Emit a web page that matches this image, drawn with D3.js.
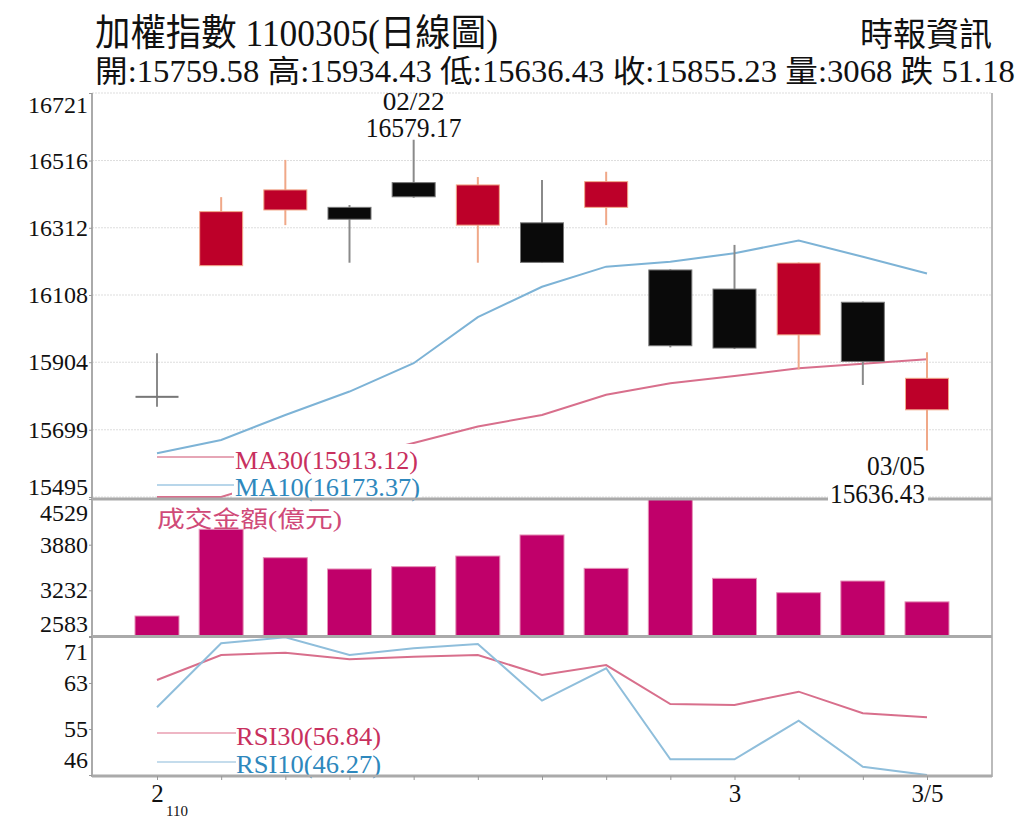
<!DOCTYPE html>
<html>
<head>
<meta charset="utf-8">
<script src="https://cdn.jsdelivr.net/npm/d3@7"></script>
<style>
  body { margin: 0; background: #fff; }
  svg { display: block; }
  text { font-family: 'Liberation Serif', 'Noto Sans CJK TC', serif; }
</style>
</head>
<body>
<div id="chart"></div>
<script>
// trading days, 110/02/05 .. 110/03/05
const dates = ["2/5", "2/17", "2/18", "2/19", "2/22", "2/23", "2/24", "2/25", "2/26", "3/2", "3/3", "3/4", "3/5"];
const xTickLabels = ["2", "", "", "", "", "", "", "", "", "3", "", "", "3/5"];

const openP  = [15800, 16197, 16366, 16374, 16449, 16320, 16327, 16374, 16184, 16126, 15987, 16086, 15759.58];
const highP  = [15931, 16405, 16518, 16381, 16579.17, 16466, 16457, 16482, 16186, 16260, 16207, 16088, 15934.43];
const lowP   = [15769, 16197, 16320, 16206, 16403, 16206, 16205, 16320, 15949, 15944, 15882, 15835, 15636.43];
const closeP = [15802, 16361, 16427, 16338, 16406, 16442, 16207, 16452, 15954, 15947, 16205, 15906.41, 15855.23];

const ma10 = [15628, 15668, 15744, 15815, 15901, 16041, 16133, 16194, 16209, 16235, 16273, 16224, 16173.37];
const ma30 = [15468, 15490, 15555, 15610, 15659, 15709, 15744, 15805, 15840, 15862, 15886, 15899, 15913.12];

const volume = [2867, 4099, 3695, 3535, 3568, 3719, 4018, 3544, 4529, 3402, 3198, 3364, 3068];

const rsi30 = [63.67, 68.25, 68.67, 67.46, 67.94, 68.25, 64.6, 66.4, 59.27, 59.09, 61.53, 57.57, 56.84];
const rsi10 = [58.67, 70.39, 71.5, 68.25, 69.47, 70.26, 59.88, 65.81, 49.15, 49.15, 56.22, 47.79, 46.27];

const priceTicks = [15495, 15699, 15904, 16108, 16312, 16516, 16721];
const volTicks = [2583, 3232, 3880, 4529];
const rsiTicks = [46.27, 54.69, 63.12, 71.54];
const rsiTickLabels = ["46", "55", "63", "71"];

const W = 1024, H = 820;
const left = 92, right = 992;
const priceTop = 93, priceBot = 497, volTop = 499, volBot = 636, rsiTop = 637, rsiBot = 775;

const svg = d3.select("#chart").append("svg")
  .attr("width", W).attr("height", H);

const x = d3.scalePoint().domain(dates).range([157, 927]);
const yP = d3.scaleLinear().domain([15495, 16721]).range([priceBot, priceTop]).clamp(true);
const yV = d3.scaleLinear().domain([2583, 4529]).range([volBot, volTop]);
const yR = d3.scaleLinear().domain([46.27, 71.54]).range([rsiBot, rsiTop]).clamp(true);

// header: CJK and latin runs as separate texts, then squeezed to width
const serif = "'Liberation Serif', serif";
const cjk = "'Noto Sans CJK TC', sans-serif";
function mixedText(x0, y0, size, width, str) {
  const g = svg.append("g");
  const parts = str.match(/[\u3000-\u9fff\uff00-\uffef]+|[^\u3000-\u9fff\uff00-\uffef]+/g);
  let cx = 0;
  parts.forEach(p => {
    const t = g.append("text").attr("x", cx).attr("y", 0)
      .attr("font-size", size).attr("fill", "#111")
      .attr("font-family", /[\u3000-\u9fff]/.test(p) ? cjk : serif)
      .attr("xml:space", "preserve").style("white-space", "pre")
      .text(p);
    cx += t.node().getComputedTextLength();
  });
  g.attr("transform", `translate(${x0},${y0}) scale(${width / cx},1)`);
}
mixedText(95, 46, 37, 403, "加權指數 1100305(日線圖)");
svg.append("text").attr("x", 992).attr("y", 46)
  .attr("text-anchor", "end").attr("font-size", 33).attr("fill", "#111")
  .attr("font-family", cjk)
  .text("時報資訊");
mixedText(95, 82, 31, 920, "開:15759.58 高:15934.43 低:15636.43 收:15855.23 量:3068 跌 51.18");

// grid lines (price panel)
svg.append("g").selectAll("line")
  .data(priceTicks)
  .join("line")
  .attr("x1", left).attr("x2", right)
  .attr("y1", d => yP(d)).attr("y2", d => yP(d))
  .attr("stroke", "#ddd").attr("stroke-dasharray", "2,1");

// moving averages
const line = (scale) => d3.line().x((d, i) => x(dates[i])).y(d => scale(d));
svg.append("path").datum(ma30)
  .attr("d", line(yP)).attr("fill", "none")
  .attr("stroke", "#d86f8c").attr("stroke-width", 2);
svg.append("path").datum(ma10)
  .attr("d", line(yP)).attr("fill", "none")
  .attr("stroke", "#7db3d6").attr("stroke-width", 2);

// candles
const candles = svg.append("g").selectAll("g")
  .data(dates.map((d, i) => ({ d, o: openP[i], h: highP[i], l: lowP[i], c: closeP[i] })))
  .join("g");
const bw = 43;
candles.append("line")
  .attr("x1", d => x(d.d)).attr("x2", d => x(d.d))
  .attr("y1", d => yP(d.h)).attr("y2", d => yP(d.l))
  .attr("stroke", d => d.c > d.o + 5 ? "#f0a888" : "#8a8a8a")
  .attr("stroke-width", 2);
candles.append("rect")
  .attr("x", d => x(d.d) - bw / 2)
  .attr("width", bw)
  .attr("y", d => yP(Math.max(d.o, d.c)))
  .attr("height", d => Math.max(2, Math.abs(yP(d.o) - yP(d.c))))
  .attr("fill", d => Math.abs(d.c - d.o) < 5 ? "#777" : (d.c > d.o ? "#bd0029" : "#0a0a0a"))
  .attr("stroke", d => Math.abs(d.c - d.o) < 5 ? "none" : (d.c > d.o ? "#f2a88a" : "#777"))
  .attr("stroke-width", 1);

// MA legend
svg.append("rect").attr("x", 232).attr("y", 444).attr("width", 190).attr("height", 54).attr("fill", "#fff");
svg.append("line").attr("x1", 157).attr("x2", 234).attr("y1", 457).attr("y2", 457)
  .attr("stroke", "#e6a6b6").attr("stroke-width", 2);
svg.append("line").attr("x1", 157).attr("x2", 234).attr("y1", 485).attr("y2", 485)
  .attr("stroke", "#b8d6ea").attr("stroke-width", 2);
svg.append("text").attr("x", 235).attr("y", 469).attr("font-size", 25)
  .attr("fill", "#c8305e").attr("textLength", 183).attr("lengthAdjust", "spacingAndGlyphs")
  .text("MA30(" + d3.format(".2f")(ma30[ma30.length - 1]) + ")");
svg.append("text").attr("x", 235).attr("y", 496).attr("font-size", 25)
  .attr("fill", "#2e88bd").attr("textLength", 185).attr("lengthAdjust", "spacingAndGlyphs")
  .text("MA10(" + d3.format(".2f")(ma10[ma10.length - 1]) + ")");

// high / low annotations
const hi = d3.maxIndex(highP), lo = d3.minIndex(lowP);
svg.append("text").attr("x", x(dates[hi])).attr("y", yP(highP[hi]) - 30)
  .attr("text-anchor", "middle").attr("font-size", 25).attr("fill", "#111")
  .attr("textLength", 62).attr("lengthAdjust", "spacingAndGlyphs")
  .text("02/22");
svg.append("text").attr("x", x(dates[hi])).attr("y", yP(highP[hi]) - 3)
  .attr("text-anchor", "middle").attr("font-size", 27).attr("fill", "#111")
  .attr("textLength", 96).attr("lengthAdjust", "spacingAndGlyphs")
  .text(d3.format(".2f")(highP[hi]));
svg.append("rect").attr("x", 828).attr("y", 481).attr("width", 100).attr("height", 26).attr("fill", "#fff");
svg.append("text").attr("x", x(dates[lo]) - 2).attr("y", yP(lowP[lo]) + 25)
  .attr("text-anchor", "end").attr("font-size", 27).attr("fill", "#111")
  .attr("textLength", 58).attr("lengthAdjust", "spacingAndGlyphs")
  .text("03/05");
svg.append("text").attr("x", x(dates[lo]) - 2).attr("y", yP(lowP[lo]) + 53)
  .attr("text-anchor", "end").attr("font-size", 27).attr("fill", "#111")
  .attr("textLength", 95).attr("lengthAdjust", "spacingAndGlyphs")
  .text(d3.format(".2f")(lowP[lo]));

// volume bars
svg.append("g").selectAll("rect")
  .data(volume)
  .join("rect")
  .attr("x", (d, i) => x(dates[i]) - 22)
  .attr("width", 44)
  .attr("y", d => yV(d))
  .attr("height", d => volBot - yV(d))
  .attr("fill", "#c0006a")
  .attr("stroke", "#e592b8").attr("stroke-width", 1);
svg.append("text").attr("x", 157).attr("y", 527).attr("font-size", 23)
  .attr("fill", "#d04a78").attr("textLength", 185).attr("lengthAdjust", "spacingAndGlyphs")
  .text("成交金額(億元)");

// RSI
svg.append("path").datum(rsi30)
  .attr("d", line(yR)).attr("fill", "none")
  .attr("stroke", "#d86f8c").attr("stroke-width", 2);
svg.append("path").datum(rsi10)
  .attr("d", line(yR)).attr("fill", "none")
  .attr("stroke", "#8fbedb").attr("stroke-width", 2);
svg.append("line").attr("x1", 157).attr("x2", 236).attr("y1", 733).attr("y2", 733)
  .attr("stroke", "#eeb6c4").attr("stroke-width", 2);
svg.append("line").attr("x1", 157).attr("x2", 236).attr("y1", 762).attr("y2", 762)
  .attr("stroke", "#c4dcec").attr("stroke-width", 2);
svg.append("text").attr("x", 236).attr("y", 745).attr("font-size", 25)
  .attr("fill", "#c8305e").attr("textLength", 145).attr("lengthAdjust", "spacingAndGlyphs")
  .text("RSI30(" + d3.format(".2f")(rsi30[rsi30.length - 1]) + ")");
svg.append("text").attr("x", 236).attr("y", 773).attr("font-size", 25)
  .attr("fill", "#2e88bd").attr("textLength", 145).attr("lengthAdjust", "spacingAndGlyphs")
  .text("RSI10(" + d3.format(".2f")(rsi10[rsi10.length - 1]) + ")");

// frame and separators
const frame = svg.append("g").attr("stroke", "#aaa");
frame.append("line").attr("x1", left).attr("x2", left).attr("y1", priceTop).attr("y2", rsiBot + 2).attr("stroke-width", 2);
frame.append("line").attr("x1", right).attr("x2", right).attr("y1", priceTop).attr("y2", rsiBot + 2).attr("stroke-width", 2).attr("stroke", "#bbb");
frame.append("line").attr("x1", left).attr("x2", 828).attr("y1", 499).attr("y2", 499).attr("stroke-width", 3);
frame.append("line").attr("x1", 928).attr("x2", right).attr("y1", 499).attr("y2", 499).attr("stroke-width", 3);
frame.append("line").attr("x1", left).attr("x2", right).attr("y1", 636.5).attr("y2", 636.5).attr("stroke-width", 3);
frame.append("line").attr("x1", left).attr("x2", right).attr("y1", 776).attr("y2", 776).attr("stroke-width", 3);

// axes
function styleAxis(g, firstDy, lastDy) {
  g.select(".domain").remove();
  g.selectAll(".tick line").attr("stroke", "#999");
  g.selectAll(".tick text")
    .attr("font-family", serif)
    .attr("font-size", 24).attr("fill", "#111");
  const t = g.selectAll(".tick text").nodes();
  d3.select(t[0]).attr("dy", (0.32 + lastDy) + "em");
  d3.select(t[t.length - 1]).attr("dy", (0.32 + firstDy) + "em");
}

svg.append("g").attr("transform", `translate(${left},0)`)
  .call(d3.axisLeft(yP).tickValues(priceTicks).tickFormat(d3.format("d")).tickSize(3).tickPadding(1))
  .call(g => styleAxis(g, 0.5, -0.42));

svg.append("g").attr("transform", `translate(${left},0)`)
  .call(d3.axisLeft(yV).tickValues(volTicks).tickFormat(d3.format("d")).tickSize(3).tickPadding(1))
  .call(g => styleAxis(g, 0.58, -0.5));

svg.append("g").attr("transform", `translate(${left},0)`)
  .call(d3.axisLeft(yR).tickValues(rsiTicks).tickFormat((d, i) => rsiTickLabels[i]).tickSize(3).tickPadding(1))
  .call(g => styleAxis(g, 0.62, -0.62));

const xa = svg.append("g").attr("transform", `translate(0,${rsiBot + 1})`)
  .call(d3.axisBottom(x).tickFormat((d, i) => xTickLabels[i]).tickSize(4).tickPadding(4));
xa.select(".domain").remove();
xa.selectAll(".tick line").attr("stroke", "#999");
xa.selectAll(".tick text")
  .attr("font-family", serif)
  .attr("font-size", 25).attr("fill", "#111");

svg.append("text").attr("x", 177).attr("y", 816)
  .attr("text-anchor", "middle").attr("font-size", 15).attr("fill", "#111")
  .text("110");
</script>
</body>
</html>
